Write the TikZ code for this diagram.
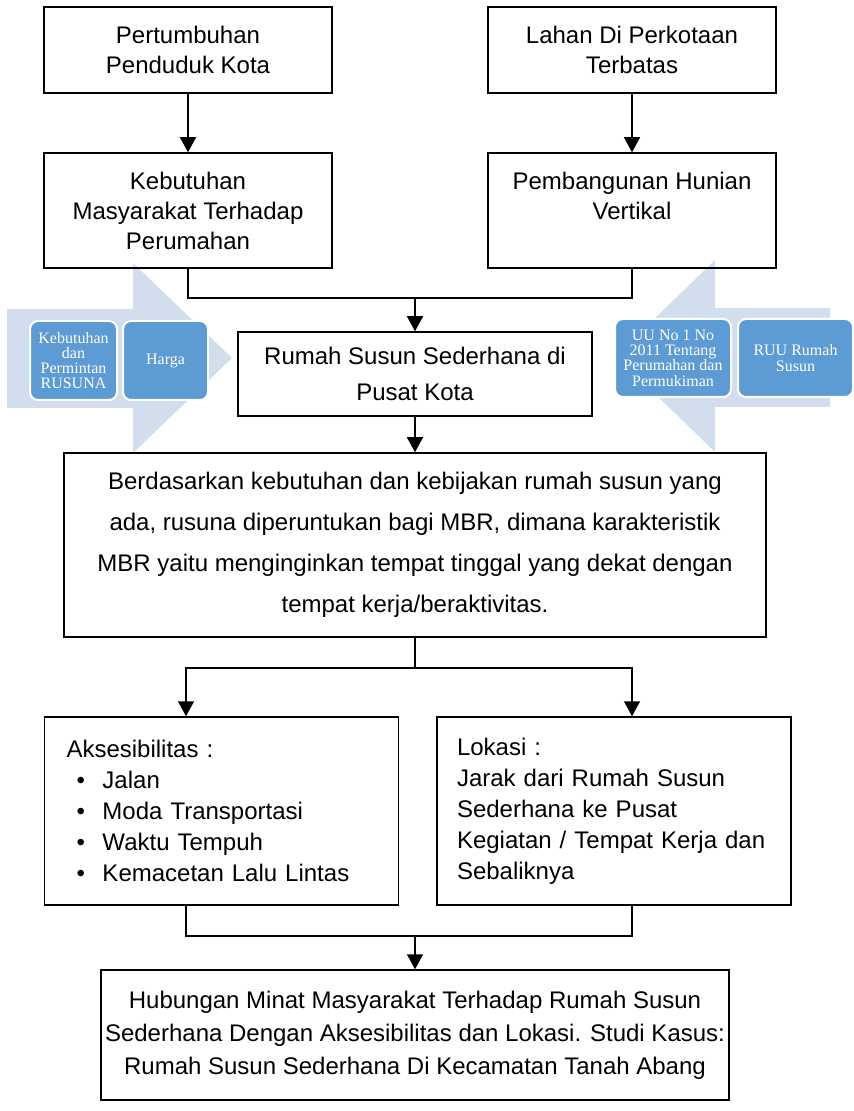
\documentclass[tikz,border=0pt]{standalone}
\usepackage{fontspec}
\setmainfont{Liberation Sans}
\newfontfamily\tilefont{Liberation Serif}
\usetikzlibrary{arrows.meta}
\definecolor{chevblue}{RGB}{210,222,238}
\definecolor{tileblue}{RGB}{92,155,212}
\newcommand{\bulit}{\makebox[18pt][l]{\hspace{5pt}\textbullet}}

\begin{document}
\begin{tikzpicture}[x=0.5pt,y=-0.5pt,
        box/.style={draw,line width=0.75pt,inner sep=0pt,align=center},
        tile/.style={draw=white,line width=1pt,fill=tileblue,rounded corners=4pt,
            text=white,inner sep=0pt,align=center,font=\tilefont\fontsize{8}{7.6}\selectfont},
        arr/.style={-{Triangle[width=8pt,length=7.5pt]},line width=0.75pt},
        link/.style={line width=0.75pt}]
    \useasboundingbox (0,0) rectangle (854,1111);

    % side chevrons
    \fill[chevblue] (7,309) -- (133,309) -- (133,263) -- (232,358) -- (133,453) -- (133,408) -- (7,408) -- cycle;
    \fill[chevblue] (830,308) -- (715,308) -- (715,260) -- (616,356) -- (715,452) -- (715,407) -- (830,407) -- cycle;

    \node[tile,minimum width=43.5pt,minimum height=39.5pt] (need) at (73.5,360.5) {Kebutuhan\\dan\\Permintan\\RUSUNA};
    \node[tile,minimum width=42.5pt,minimum height=39.5pt] (price) at (165.5,360.5) {Harga};
    \node[tile,minimum width=58pt,minimum height=39pt] (uu) at (673,358) {UU No 1 No\\2011 Tentang\\Perumahan dan\\Permukiman};
    \node[tile,minimum width=57.5pt,minimum height=39pt] (ruu) at (795.5,358) {RUU Rumah\\Susun};

    \node[box,minimum width=144pt,minimum height=43pt,font=\fontsize{12}{15}\selectfont] (pert) at (188,50) {Pertumbuhan\\Penduduk Kota};
    \node[box,minimum width=144pt,minimum height=43pt,font=\fontsize{12}{15}\selectfont] (lahan) at (632,50) {Lahan Di Perkotaan\\Terbatas};
    \node[box,minimum width=144pt,minimum height=57.5pt,font=\fontsize{12}{15}\selectfont] (kebut) at (188,210.5) {Kebutuhan\\Masyarakat Terhadap\\Perumahan};
    \node[box,minimum width=144pt,minimum height=57.5pt,font=\fontsize{12}{15}\selectfont] (bangun) at (632,210.5) {Pembangunan Hunian\\Vertikal\\\mbox{}};
    \node[box,minimum width=177pt,minimum height=42pt,font=\fontsize{12}{18}\selectfont] (rusun) at (415,374) {Rumah Susun Sederhana di\\Pusat Kota};
    \node[box,minimum width=351pt,minimum height=92pt,font=\fontsize{12}{20.5}\selectfont] (dasar) at (415,545) {Berdasarkan kebutuhan dan kebijakan rumah susun yang\\ada, rusuna diperuntukan bagi MBR, dimana karakteristik\\MBR yaitu menginginkan tempat tinggal yang dekat dengan\\tempat kerja/beraktivitas.};
    \node[box,align=left,text width=155pt,inner xsep=11pt,minimum height=94pt,font=\fontsize{12}{15.5}\selectfont] (akses) at (221.5,811) {Aksesibilitas :\\\bulit Jalan\\\bulit Moda Transportasi\\\bulit Waktu Tempuh\\\bulit Kemacetan Lalu Lintas};
    \node[box,align=left,text width=157pt,inner xsep=10pt,minimum height=94pt,font=\fontsize{12}{15.5}\selectfont] (lokasi) at (614,811) {Lokasi :\\Jarak dari Rumah Susun\\Sederhana ke Pusat\\Kegiatan / Tempat Kerja dan\\Sebaliknya};
    \node[box,minimum width=314pt,minimum height=65pt,font=\fontsize{12}{16.5}\selectfont] (hubung) at (415,1035) {Hubungan Minat Masyarakat Terhadap Rumah Susun\\Sederhana Dengan Aksesibilitas dan Lokasi. Studi Kasus:\\Rumah Susun Sederhana Di Kecamatan Tanah Abang};

    \coordinate (mid1) at (415,298);
    \coordinate (lft2) at (186,668);
    \coordinate (rgt2) at (632,668);
    \coordinate (lft3) at (186,936);
    \coordinate (mid3) at (415,936);
    \coordinate (rgt3) at (632,936);

    \draw[arr] (pert) -- (kebut);
    \draw[arr] (lahan) -- (bangun);
    \draw[link] (kebut) |- (mid1) -| (bangun);
    \draw[arr] (mid1) -- (rusun);
    \draw[arr] (rusun) -- (dasar);
    \draw[arr] (dasar.south) |- (lft2) -- (lft2 |- akses.north);
    \draw[arr] (dasar.south) |- (rgt2) -- (rgt2 |- lokasi.north);
    \draw[link] (lft3 |- akses.south) -- (lft3) -- (rgt3) -- (rgt3 |- lokasi.south);
    \draw[arr] (mid3) -- (hubung);
\end{tikzpicture}
\end{document}
